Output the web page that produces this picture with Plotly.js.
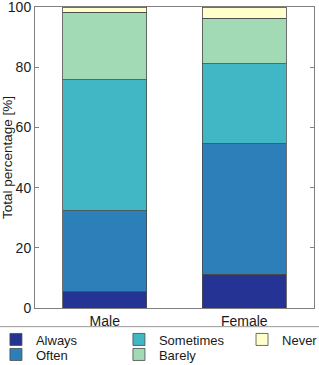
<!DOCTYPE html>
<html>
<head>
<meta charset="utf-8">
<script src="https://cdn.plot.ly/plotly-3.0.1.min.js"></script>
<style>
  html, body { margin: 0; padding: 0; background: #fff; }
  #chart { width: 319px; height: 365px; }
</style>
</head>
<body>
<div id="chart"></div>
<script>
// Groups on the x axis
const groups = ['Male', 'Female'];

// Answer categories, stacked bottom to top
const answers = ['Always', 'Often', 'Sometimes', 'Barely', 'Never'];

// Share of respondents per answer [%], one value per group
const always    = [5.4, 11.2];
const often     = [26.9, 43.4];
const sometimes = [43.5, 26.5];
const barely    = [22.5, 15.1];
const never     = [1.7, 3.8];

const seriesValues = [always, often, sometimes, barely, never];
const colors = ['#253494', '#2c7fb8', '#41b6c4', '#a1dab4', '#ffffcc'];

// Legend laid out as a 3-column grid:
// row 1 (legend): Always, Sometimes; row 2 (legend2): Often, Barely;
// Never sits alone in legend3, right-hand column of row 1.
const legendSlots  = ['legend', 'legend2', 'legend', 'legend2', 'legend3'];
const legendWidths = [78, 78, null, null, null];

const yTicks = [0, 20, 40, 60, 80, 100];

const traces = answers.map((name, i) => {
  const t = {
    type: 'bar',
    name: name,
    x: groups,
    y: seriesValues[i],
    width: 0.6,
    legend: legendSlots[i],
    marker: { color: colors[i], line: { color: '#4a4a4a', width: 0.8 } },
    hoverinfo: 'x+y+name'
  };
  if (legendWidths[i]) t.legendwidth = legendWidths[i];
  return t;
});

const family = 'Liberation Sans, Arial, sans-serif';
const ink = '#1a1a1a';

function legendRow(x, y) {
  return {
    orientation: 'h',
    traceorder: 'normal',
    x: x,
    xanchor: 'left',
    y: y,
    yanchor: 'top',
    font: { family: family, size: 13, color: ink },
    bgcolor: 'rgba(0,0,0,0)',
    borderwidth: 0
  };
}

const layout = {
  width: 319,
  height: 365,
  margin: { l: 35, r: 5, t: 7, b: 57, autoexpand: false },
  paper_bgcolor: '#fff',
  plot_bgcolor: '#fff',
  font: { family: family, size: 14, color: ink },
  barmode: 'stack',
  showlegend: true,
  legend:  legendRow(-0.14, -0.0548),
  legend2: legendRow(-0.14, -0.1047),
  legend3: legendRow(0.742, -0.0548),
  xaxis: {
    range: [-0.5, 1.5],
    showline: true,
    linecolor: '#808080',
    linewidth: 1,
    mirror: true,
    ticks: '',
    showgrid: false,
    zeroline: false,
    tickfont: { size: 14 }
  },
  yaxis: {
    range: [0, 100],
    tickvals: yTicks,
    ticktext: yTicks.map(String),
    ticks: 'inside',
    ticklen: 4,
    tickcolor: '#808080',
    showline: true,
    linecolor: '#808080',
    linewidth: 1,
    mirror: 'ticks',
    showgrid: false,
    zeroline: false,
    ticklabeloverflow: 'allow',
    tickfont: { size: 14 },
    title: { text: 'Total percentage [%]', font: { size: 13.5 }, standoff: 3 }
  },
  shapes: [{
    type: 'line', xref: 'paper', yref: 'paper',
    x0: -0.13, x1: 1.02, y0: -0.062, y1: -0.062,
    line: { color: '#999', width: 1 }
  }]
};

Plotly.newPlot('chart', traces, layout, { displayModeBar: false, staticPlot: true });
</script>
</body>
</html>
